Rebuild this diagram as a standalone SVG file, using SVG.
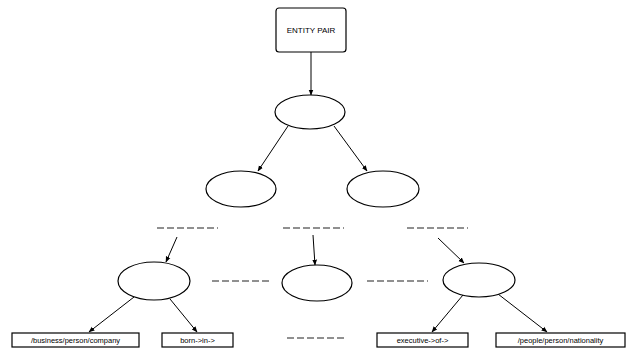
<svg xmlns="http://www.w3.org/2000/svg" width="629" height="354" viewBox="0 0 629 354">
<style>
.n{fill:#fff;stroke:#000;stroke-width:1.2}
.e{stroke:#000;stroke-width:1;fill:none}
.d{stroke:#222;stroke-width:1.2;stroke-dasharray:7,3;fill:none}
text{font-family:"Liberation Sans",Arial,sans-serif;fill:#000;text-anchor:middle}
.t{font-size:8px}
.s{font-size:7.5px}
</style>
<defs>
<marker id="a" viewBox="0 0 10 10" refX="9" refY="5" markerWidth="6" markerHeight="6" orient="auto" markerUnits="userSpaceOnUse">
<path d="M0,1 L10,5 L0,9 z" fill="#000"/>
</marker>
</defs>
<rect width="629" height="354" fill="#fff"/>
<g id="connectors">
<line class="e" x1="311" y1="52" x2="311" y2="95" marker-end="url(#a)"/>
<line class="e" x1="288" y1="126" x2="258" y2="171" marker-end="url(#a)"/>
<line class="e" x1="334" y1="126" x2="367" y2="171" marker-end="url(#a)"/>
<line class="e" x1="177" y1="237" x2="166" y2="262" marker-end="url(#a)"/>
<line class="e" x1="313" y1="235" x2="315" y2="265" marker-end="url(#a)"/>
<line class="e" x1="438" y1="238" x2="464" y2="263" marker-end="url(#a)"/>
<line class="e" x1="134" y1="297" x2="89" y2="332" marker-end="url(#a)"/>
<line class="e" x1="170" y1="299" x2="197" y2="332" marker-end="url(#a)"/>
<line class="e" x1="463" y1="295" x2="432" y2="332" marker-end="url(#a)"/>
<line class="e" x1="498" y1="294" x2="547" y2="332" marker-end="url(#a)"/>
</g>
<g id="dashes">
<line class="d" x1="157" y1="228" x2="218" y2="228"/>
<line class="d" x1="283" y1="228" x2="344" y2="228"/>
<line class="d" x1="407" y1="228" x2="468" y2="228"/>
<line class="d" x1="212" y1="281" x2="272" y2="281"/>
<line class="d" x1="367" y1="281" x2="428" y2="281"/>
<line class="d" x1="287" y1="338" x2="347" y2="338"/>
</g>
<g id="entity-pair">
<rect class="n" x="276" y="8" width="70" height="44" rx="3"/>
<text class="t" x="311" y="33">ENTITY PAIR</text>
</g>
<g id="root"><ellipse class="n" cx="310" cy="112" rx="35" ry="17"/></g>
<g id="l2a"><ellipse class="n" cx="241" cy="189" rx="35" ry="18"/></g>
<g id="l2b"><ellipse class="n" cx="383" cy="189" rx="36" ry="18"/></g>
<g id="l3a"><ellipse class="n" cx="154" cy="281" rx="36" ry="19"/></g>
<g id="l3b"><ellipse class="n" cx="317" cy="283" rx="35" ry="18"/></g>
<g id="l3c"><ellipse class="n" cx="479" cy="280" rx="36" ry="17"/></g>
<g id="leaf1">
<rect class="n" x="12" y="333" width="127" height="14"/>
<text class="s" x="75.5" y="343">/business/person/company</text>
</g>
<g id="leaf2">
<rect class="n" x="162" y="333" width="71" height="14"/>
<text class="s" x="197.5" y="343">born-&gt;in-&gt;</text>
</g>
<g id="leaf3">
<rect class="n" x="377" y="333" width="91" height="14"/>
<text class="s" x="422.5" y="343">executive-&gt;of-&gt;</text>
</g>
<g id="leaf4">
<rect class="n" x="496" y="333" width="129" height="14"/>
<text class="s" x="560.5" y="343">/people/person/nationality</text>
</g>
</svg>
